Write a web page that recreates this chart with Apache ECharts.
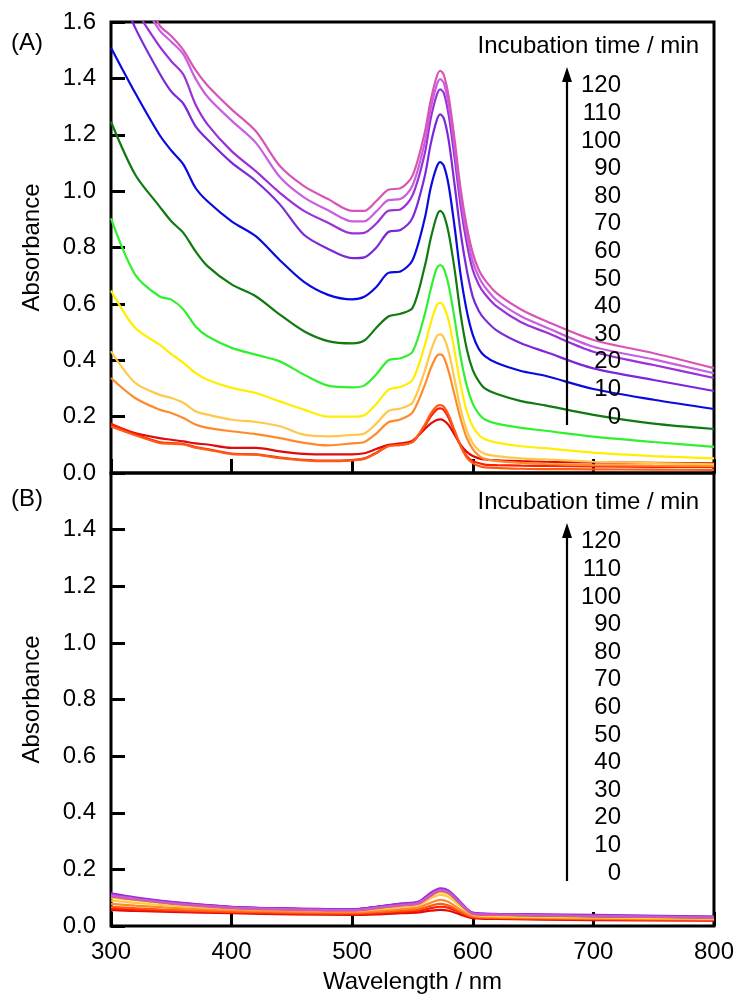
<!DOCTYPE html>
<html>
<head>
<meta charset="utf-8">
<script src="https://cdn.jsdelivr.net/npm/echarts@6/dist/echarts.min.js"></script>
<style>
    html, body { margin: 0; padding: 0; background: #fff; }
    #chart { width: 737px; height: 997px; }
</style>
</head>
<body>
<div id="chart"></div>
<script>
    // incubation times (min) and line colours, 0 -> 120
    const times = [0, 10, 20, 30, 40, 50, 60, 70, 80, 90, 100, 110, 120];
    const colors = ['#e00a0a', '#ff1e00', '#ff5a14', '#ff8a2c', '#ffc84a', '#ffee00', '#30f030',
        '#107a10', '#0a0ae0', '#7a28d8', '#9b30d8', '#c85fe0', '#d855b5'];

    // (A) wavelengths (nm) and absorbance per incubation time
    const wlA = [300, 320, 340, 350, 360, 370, 380, 400, 420, 440, 460, 480, 500, 510, 520, 530, 540, 550,
        560, 565, 570, 573, 576, 580, 585, 590, 595, 600, 605, 610, 620, 640, 660, 700, 750, 800];
    const a0 = [0.172, 0.142, 0.124, 0.118, 0.112, 0.105, 0.101, 0.089, 0.089, 0.077, 0.068, 0.066, 0.066, 0.07, 0.085, 0.1, 0.105, 0.115,
        0.155, 0.175, 0.188, 0.19, 0.186, 0.17, 0.135, 0.1, 0.075, 0.06, 0.052, 0.048, 0.045, 0.042, 0.04, 0.038, 0.036, 0.034];
    const a10 = [0.175, 0.138, 0.11, 0.106, 0.103, 0.092, 0.085, 0.069, 0.066, 0.055, 0.047, 0.044, 0.046, 0.052, 0.072, 0.096, 0.1, 0.11,
        0.165, 0.2, 0.225, 0.229, 0.223, 0.195, 0.145, 0.095, 0.06, 0.042, 0.035, 0.03, 0.028, 0.026, 0.025, 0.023, 0.022, 0.022];
    const a20 = [0.165, 0.134, 0.107, 0.104, 0.101, 0.09, 0.083, 0.067, 0.065, 0.053, 0.045, 0.042, 0.045, 0.05, 0.07, 0.095, 0.1, 0.11,
        0.17, 0.21, 0.237, 0.241, 0.235, 0.205, 0.15, 0.095, 0.055, 0.035, 0.025, 0.02, 0.018, 0.015, 0.014, 0.013, 0.012, 0.011];
    const a30 = [0.337, 0.266, 0.225, 0.213, 0.195, 0.172, 0.16, 0.148, 0.138, 0.124, 0.107, 0.098, 0.105, 0.11, 0.14, 0.18, 0.19, 0.215,
        0.31, 0.37, 0.415, 0.421, 0.41, 0.36, 0.275, 0.19, 0.125, 0.085, 0.062, 0.05, 0.042, 0.036, 0.032, 0.028, 0.026, 0.025];
    const a40 = [0.432, 0.32, 0.278, 0.266, 0.249, 0.219, 0.207, 0.189, 0.181, 0.166, 0.136, 0.13, 0.135, 0.14, 0.175, 0.22, 0.229, 0.25,
        0.36, 0.43, 0.485, 0.492, 0.48, 0.43, 0.33, 0.225, 0.15, 0.105, 0.08, 0.068, 0.06, 0.052, 0.048, 0.04, 0.035, 0.031];
    const a50 = [0.647, 0.515, 0.456, 0.422, 0.391, 0.355, 0.331, 0.302, 0.284, 0.254, 0.225, 0.2, 0.2, 0.205, 0.245, 0.295, 0.306, 0.33,
        0.45, 0.53, 0.595, 0.604, 0.59, 0.54, 0.43, 0.31, 0.22, 0.165, 0.135, 0.12, 0.108, 0.095, 0.088, 0.072, 0.06, 0.052];
    const a60 = [0.903, 0.704, 0.627, 0.615, 0.58, 0.521, 0.485, 0.444, 0.42, 0.396, 0.349, 0.31, 0.304, 0.31, 0.35, 0.4, 0.407, 0.43,
        0.56, 0.65, 0.725, 0.738, 0.725, 0.665, 0.545, 0.41, 0.31, 0.245, 0.21, 0.19, 0.175, 0.16, 0.15, 0.129, 0.11, 0.093];
    const a70 = [1.246, 1.059, 0.947, 0.893, 0.852, 0.787, 0.734, 0.669, 0.627, 0.562, 0.503, 0.468, 0.46, 0.47, 0.515, 0.555, 0.565, 0.585,
        0.73, 0.83, 0.91, 0.93, 0.915, 0.85, 0.72, 0.56, 0.44, 0.365, 0.325, 0.3, 0.28, 0.255, 0.24, 0.206, 0.175, 0.156];
    const a80 = [1.509, 1.349, 1.201, 1.144, 1.095, 1.012, 0.964, 0.893, 0.84, 0.755, 0.678, 0.632, 0.616, 0.625, 0.66, 0.71, 0.715, 0.755,
        0.9, 1.01, 1.085, 1.103, 1.09, 1.02, 0.87, 0.7, 0.575, 0.49, 0.44, 0.415, 0.39, 0.362, 0.345, 0.298, 0.26, 0.227];
    const a90 = [1.78, 1.58, 1.42, 1.353, 1.31, 1.231, 1.183, 1.101, 1.036, 0.953, 0.845, 0.795, 0.762, 0.765, 0.8, 0.855, 0.862, 0.905,
        1.05, 1.165, 1.25, 1.272, 1.258, 1.18, 1.02, 0.85, 0.72, 0.625, 0.575, 0.545, 0.505, 0.46, 0.43, 0.371, 0.33, 0.291];
    const a100 = [1.85, 1.65, 1.515, 1.461, 1.414, 1.308, 1.237, 1.142, 1.071, 0.994, 0.93, 0.888, 0.85, 0.852, 0.885, 0.93, 0.935, 0.985,
        1.13, 1.255, 1.34, 1.361, 1.348, 1.27, 1.115, 0.945, 0.815, 0.72, 0.668, 0.635, 0.59, 0.535, 0.5, 0.43, 0.383, 0.337];
    const a110 = [1.9, 1.72, 1.572, 1.53, 1.485, 1.4, 1.335, 1.25, 1.172, 1.05, 0.978, 0.932, 0.893, 0.893, 0.928, 0.968, 0.972, 1.02,
        1.17, 1.29, 1.375, 1.397, 1.383, 1.305, 1.15, 0.975, 0.845, 0.75, 0.695, 0.66, 0.612, 0.556, 0.518, 0.448, 0.403, 0.354];
    const a120 = [1.95, 1.76, 1.59, 1.55, 1.5, 1.43, 1.375, 1.29, 1.213, 1.089, 1.018, 0.972, 0.93, 0.93, 0.965, 1.005, 1.01, 1.055,
        1.205, 1.32, 1.405, 1.427, 1.412, 1.335, 1.18, 1.005, 0.875, 0.78, 0.72, 0.685, 0.637, 0.58, 0.54, 0.472, 0.425, 0.372];

    // (B) wavelengths (nm) and absorbance per incubation time
    const wlB = [300, 320, 350, 400, 450, 500, 520, 540, 555, 565, 573, 580, 590, 600, 620, 700, 800];
    const b0 = [0.057, 0.053, 0.05, 0.045, 0.041, 0.039, 0.041, 0.045, 0.048, 0.054, 0.057, 0.054, 0.04, 0.028, 0.025, 0.021, 0.019];
    const b10 = [0.062, 0.058, 0.053, 0.048, 0.044, 0.042, 0.045, 0.05, 0.054, 0.063, 0.068, 0.064, 0.046, 0.031, 0.027, 0.023, 0.021];
    const b20 = [0.068, 0.063, 0.057, 0.051, 0.047, 0.045, 0.048, 0.054, 0.059, 0.071, 0.078, 0.072, 0.05, 0.033, 0.029, 0.025, 0.022];
    const b30 = [0.078, 0.072, 0.064, 0.056, 0.051, 0.049, 0.053, 0.06, 0.066, 0.082, 0.092, 0.085, 0.057, 0.036, 0.031, 0.027, 0.024];
    const b40 = [0.09, 0.082, 0.072, 0.061, 0.056, 0.053, 0.059, 0.067, 0.074, 0.097, 0.11, 0.102, 0.068, 0.041, 0.035, 0.03, 0.026];
    const b50 = [0.1, 0.09, 0.078, 0.064, 0.058, 0.055, 0.062, 0.071, 0.078, 0.105, 0.12, 0.111, 0.073, 0.043, 0.037, 0.032, 0.028];
    const b60 = [0.105, 0.094, 0.08, 0.065, 0.059, 0.056, 0.064, 0.074, 0.081, 0.11, 0.125, 0.116, 0.076, 0.044, 0.039, 0.034, 0.029];
    const b70 = [0.108, 0.097, 0.082, 0.066, 0.06, 0.057, 0.066, 0.076, 0.083, 0.112, 0.128, 0.119, 0.078, 0.045, 0.04, 0.035, 0.03];
    const b80 = [0.11, 0.098, 0.083, 0.067, 0.061, 0.058, 0.067, 0.077, 0.084, 0.114, 0.13, 0.121, 0.08, 0.046, 0.041, 0.036, 0.031];
    const b90 = [0.112, 0.099, 0.084, 0.067, 0.061, 0.058, 0.067, 0.078, 0.085, 0.115, 0.131, 0.123, 0.082, 0.046, 0.042, 0.037, 0.032];
    const b100 = [0.115, 0.101, 0.085, 0.068, 0.062, 0.059, 0.068, 0.079, 0.086, 0.117, 0.133, 0.125, 0.084, 0.047, 0.043, 0.039, 0.033];
    const b110 = [0.108, 0.096, 0.081, 0.065, 0.059, 0.056, 0.064, 0.074, 0.081, 0.11, 0.127, 0.119, 0.079, 0.044, 0.04, 0.035, 0.03];
    const b120 = [0.104, 0.093, 0.079, 0.063, 0.057, 0.054, 0.062, 0.072, 0.079, 0.106, 0.123, 0.115, 0.076, 0.043, 0.039, 0.034, 0.029];

    const panelA = [a0, a10, a20, a30, a40, a50, a60, a70, a80, a90, a100, a110, a120];
    const panelB = [b0, b10, b20, b30, b40, b50, b60, b70, b80, b90, b100, b110, b120];

    const FONT = '"Liberation Sans", Arial, sans-serif';
    const FS = 24;
    const chart = echarts.init(document.getElementById('chart'));

    function xAxisFor(idx, withLabels) {
        return {
            gridIndex: idx, type: 'value', min: 300, max: 800, interval: 100,
            axisLine: { show: false },
            axisTick: { inside: true, length: 14, lineStyle: { color: '#000', width: 3 } },
            axisLabel: { show: withLabels, fontSize: FS, color: '#000', fontFamily: FONT, margin: 14 },
            splitLine: { show: false },
            name: withLabels ? 'Wavelength / nm' : '',
            nameLocation: 'middle', nameGap: 44,
            nameTextStyle: { fontSize: FS, color: '#000', fontFamily: FONT }
        };
    }

    function yAxisFor(idx, showTop) {
        return {
            gridIndex: idx, type: 'value', min: 0, max: 1.6, interval: 0.2,
            axisLine: { show: false },
            axisTick: { inside: true, length: 14, lineStyle: { color: '#000', width: 3 } },
            axisLabel: {
                fontSize: FS, color: '#000', fontFamily: FONT, margin: 15, showMaxLabel: showTop,
                formatter: function (v) { return v.toFixed(1); }
            },
            splitLine: { show: false },
            name: 'Absorbance', nameLocation: 'middle', nameGap: 67, nameRotate: 90,
            nameTextStyle: { fontSize: FS, color: '#000', fontFamily: FONT }
        };
    }

    const series = [];
    panelA.forEach(function (vals, i) {
        series.push({
            type: 'line', xAxisIndex: 0, yAxisIndex: 0, showSymbol: false, smooth: 0.3,
            lineStyle: { color: colors[i], width: 2.2 },
            data: wlA.map(function (w, k) { return [w, vals[k]]; })
        });
    });
    panelB.forEach(function (vals, i) {
        series.push({
            type: 'line', xAxisIndex: 1, yAxisIndex: 1, showSymbol: false, smooth: 0.3,
            lineStyle: { color: colors[i], width: 2.2 },
            data: wlB.map(function (w, k) { return [w, vals[k]]; })
        });
    });

    // legend-like annotation: title, arrow and time labels
    const graphic = [];
    function annotation(dy, tag) {
        graphic.push({ type: 'text', x: 11, y: 43 + dy, z: 100,
            style: { text: tag, fontSize: FS, fontFamily: FONT, fill: '#000', verticalAlign: 'middle' } });
        graphic.push({ type: 'text', x: 699, y: 46 + dy, z: 100,
            style: { text: 'Incubation time / min', fontSize: FS, fontFamily: FONT, fill: '#000', align: 'right', verticalAlign: 'middle' } });
        graphic.push({ type: 'line', z: 100, shape: { x1: 567, y1: 425 + dy, x2: 567, y2: 80 + dy },
            style: { stroke: '#000', lineWidth: 2.2 } });
        graphic.push({ type: 'polygon', z: 100, shape: { points: [[562, 82 + dy], [572, 82 + dy], [567, 67 + dy]] },
            style: { fill: '#000' } });
        times.forEach(function (t, i) {
            graphic.push({ type: 'text', x: 621, y: 417 - i * 27.6 + dy, z: 100,
                style: { text: String(t), fontSize: FS, fontFamily: FONT, fill: '#000', align: 'right', verticalAlign: 'middle' } });
        });
    }
    annotation(0, '(A)');
    annotation(456, '(B)');

    chart.setOption({
        animation: false,
        backgroundColor: '#fff',
        textStyle: { fontFamily: FONT },
        grid: [
            { left: 111, top: 22, width: 603, height: 451, show: true, borderColor: '#000', borderWidth: 3 },
            { left: 111, top: 473, width: 603, height: 453, show: true, borderColor: '#000', borderWidth: 3 }
        ],
        xAxis: [xAxisFor(0, false), xAxisFor(1, true)],
        yAxis: [yAxisFor(0, true), yAxisFor(1, false)],
        series: series,
        graphic: graphic
    });
</script>
</body>
</html>
